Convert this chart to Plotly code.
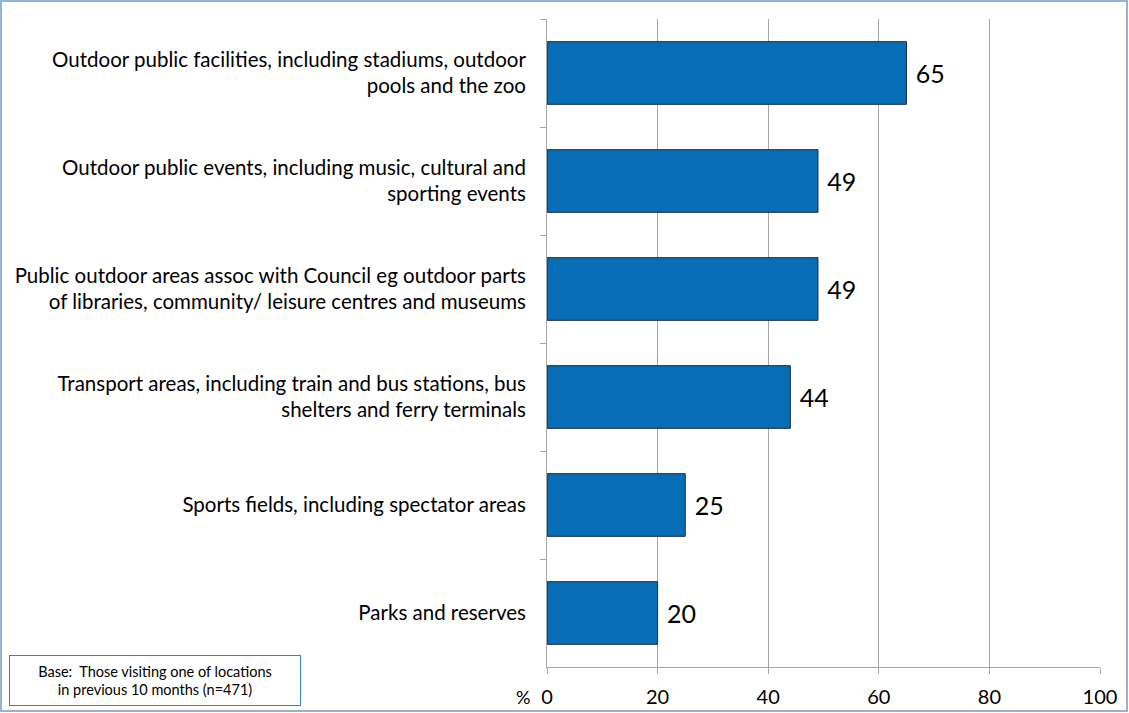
import plotly.graph_objects as go

categories = [
    "Outdoor public facilities, including stadiums, outdoor<br>pools and the zoo",
    "Outdoor public events, including music, cultural and<br>sporting events",
    "Public outdoor areas assoc with Council eg outdoor parts<br>of libraries, community/ leisure centres and museums",
    "Transport areas, including train and bus stations, bus<br>shelters and ferry terminals",
    "Sports fields, including spectator areas",
    "Parks and reserves",
]
values = [65, 49, 49, 44, 25, 20]
x_ticks = [0, 20, 40, 60, 80, 100]

FONT = "Lato, Open Sans, sans-serif"
W, H = 1129, 713
L, R, T, B = 547, 29, 19, 46
pw, ph = W - L - R, H - T - B

def px(x):
    return (x - L) / pw

def py(y):
    return (H - B - y) / ph

fig = go.Figure()
fig.add_trace(go.Bar(
    y=categories, x=values, orientation="h",
    marker=dict(color="#076DB6", line=dict(color="#1F2A3A", width=1)),
    text=["\u00a0" + str(v) for v in values], textposition="outside",
    textfont=dict(size=25, color="#000000", family=FONT),
    cliponaxis=False, width=0.58,
))

fig.update_layout(
    width=W, height=H,
    margin=dict(l=L, r=R, t=T, b=B, pad=0, autoexpand=False),
    paper_bgcolor="white", plot_bgcolor="white",
    font=dict(family=FONT, color="#000000"),
    showlegend=False,
    bargap=0.42,
    xaxis=dict(
        range=[0, 100], tickvals=x_ticks, ticktext=[str(t) for t in x_ticks],
        showgrid=True, gridcolor="#A6A6A6", gridwidth=1,
        showline=True, linecolor="#A6A6A6", linewidth=1,
        ticks="outside", ticklen=6, tickcolor="#A6A6A6",
        tickfont=dict(size=20, family=FONT), zeroline=False,
        ticklabelstandoff=6, automargin=False,
    ),
    yaxis=dict(
        autorange="reversed", categoryorder="array", categoryarray=categories,
        showline=True, linecolor="#A6A6A6", linewidth=1,
        ticks="outside", ticklen=6, tickcolor="#A6A6A6", tickson="boundaries",
        tickfont=dict(size=20.5, family=FONT), ticklabelstandoff=16,
        showgrid=False, automargin=False,
    ),
)

fig.add_annotation(
    xref="paper", yref="paper", x=px(532), y=py(697), xanchor="right", yanchor="middle",
    text="%", showarrow=False, font=dict(size=18, family=FONT),
)
fig.add_annotation(
    xref="paper", yref="paper", x=px(155), y=py(680), xanchor="center", yanchor="middle",
    text="Base:  Those visiting one of locations<br>in previous 10 months (n=471)",
    showarrow=False, font=dict(size=14.5, family=FONT),
    bordercolor="#3A7DC1", borderwidth=1, width=288, height=47, bgcolor="white",
)
fig.add_shape(
    type="rect", xref="paper", yref="paper",
    x0=px(1), x1=px(1127), y0=py(711), y1=py(1),
    line=dict(color="#95B3D7", width=2), fillcolor="rgba(0,0,0,0)", layer="below",
)

fig.write_html("out.html")
